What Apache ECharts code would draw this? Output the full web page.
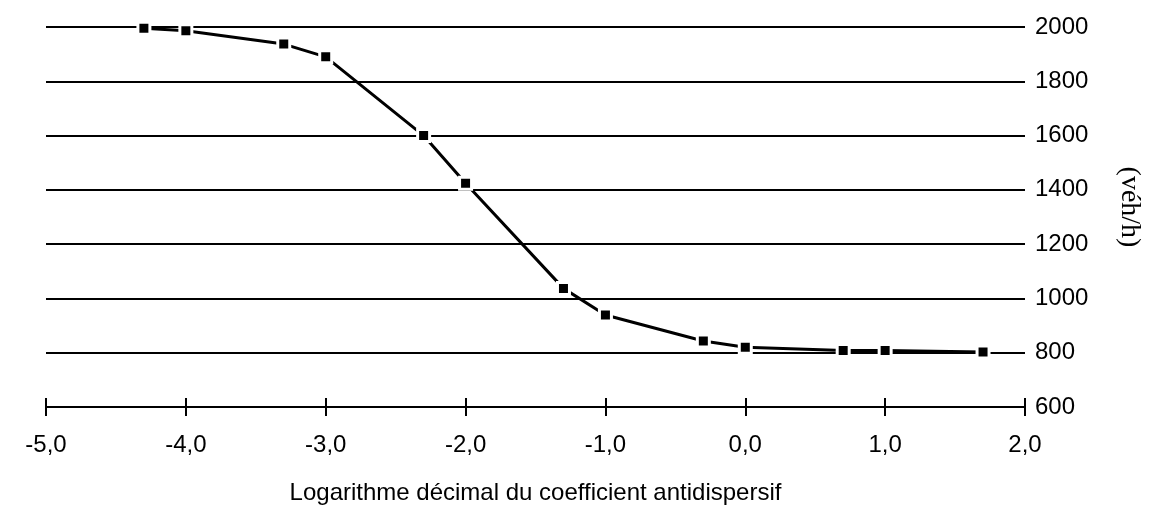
<!DOCTYPE html>
<html>
<head>
<meta charset="utf-8">
<script src="https://cdn.jsdelivr.net/npm/echarts@6/dist/echarts.min.js"></script>
<style>
html,body{margin:0;padding:0;background:#fff;}
#chart{width:1152px;height:507px;}
</style>
</head>
<body>
<div id="chart"></div>
<script>
// log10 of anti-dispersion coefficient
const logCoef = [-4.3, -4.0, -3.3, -3.0, -2.3, -2.0, -1.3, -1.0, -0.3, 0.0, 0.7, 1.0, 1.7];
// flow (véh/h)
const flow = [1995, 1986, 1937, 1890, 1600, 1424, 1037, 939, 843, 820, 808, 808, 803];

const xName = 'Logarithme décimal du coefficient antidispersif';
const yName = '(véh/h)';

const points = logCoef.map((x, i) => [x, flow[i]]);

const chart = echarts.init(document.getElementById('chart'), null, {renderer: 'canvas'});
const sans = 'Liberation Sans, Arial, Helvetica, sans-serif';
chart.setOption({
  animation: false,
  backgroundColor: '#ffffff',
  grid: {left: 46, right: 127, top: 27, bottom: 100, containLabel: false, outerBoundsMode: 'none'},
  xAxis: [{
    type: 'value', min: -5, max: 2, interval: 1,
    name: xName, nameLocation: 'middle', nameGap: 74,
    nameTextStyle: {fontFamily: sans, fontSize: 24, color: '#000'},
    axisLine: {show: true, lineStyle: {color: '#000', width: 2}},
    axisTick: {show: true, length: 9, lineStyle: {color: '#000', width: 2}},
    axisLabel: {fontFamily: sans, fontSize: 24, color: '#000', margin: 26,
      formatter: v => v.toFixed(1).replace('.', ',')},
    splitLine: {show: false}
  }, {
    type: 'value', min: -5, max: 2, interval: 1, position: 'bottom', offset: 0,
    axisLine: {show: true, lineStyle: {color: '#000', width: 2}},
    axisTick: {show: true, inside: true, length: 9, lineStyle: {color: '#000', width: 2}},
    axisLabel: {show: false},
    splitLine: {show: false}
  }],
  yAxis: {
    type: 'value', min: 600, max: 2000, interval: 200, position: 'right',
    name: yName, nameLocation: 'middle', nameGap: 90, nameRotate: -90,
    nameTextStyle: {fontFamily: 'Liberation Serif, Times New Roman, serif', fontSize: 28, color: '#000',
      padding: [0, 20, 0, 0]},
    axisLine: {show: false},
    axisTick: {show: false},
    axisLabel: {fontFamily: sans, fontSize: 24, color: '#000', margin: 10,
      formatter: v => String(v)},
    splitLine: {show: true, lineStyle: {color: '#000', width: 2}}
  },
  series: [{
    type: 'line',
    xAxisIndex: 0,
    data: points,
    lineStyle: {color: '#000', width: 3},
    symbol: 'rect', symbolSize: 12,
    itemStyle: {color: '#000', borderColor: '#fff', borderWidth: 3},
    z: 5
  }]
});
</script>
</body>
</html>
